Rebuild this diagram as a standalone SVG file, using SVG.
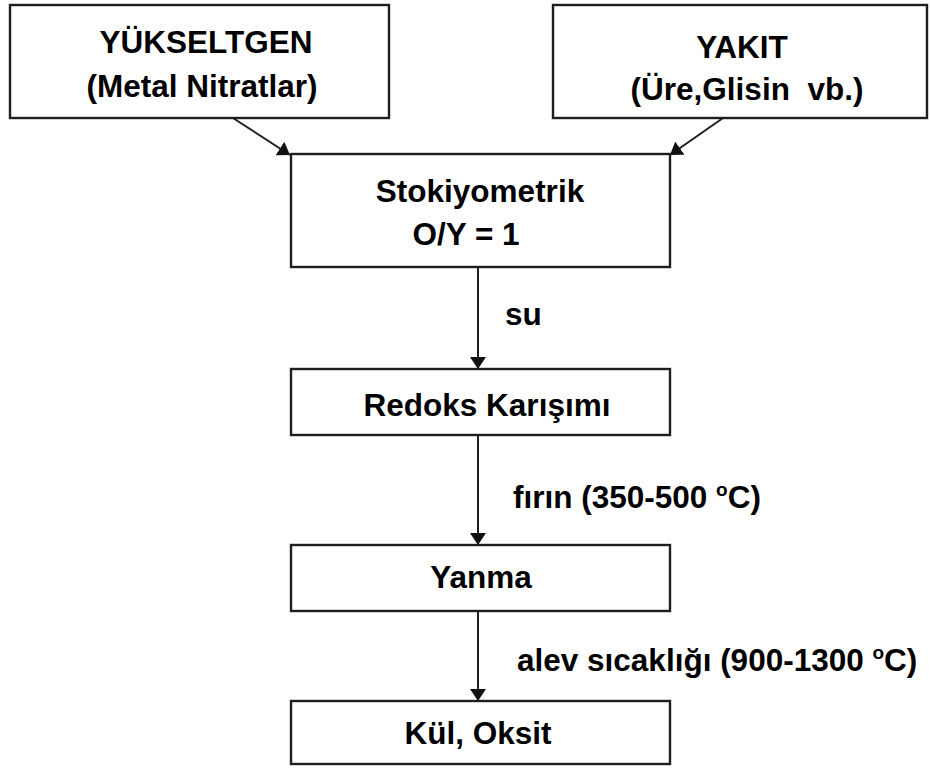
<svg xmlns="http://www.w3.org/2000/svg" width="930" height="770" viewBox="0 0 930 770">
<defs>
<style>
.box{fill:#fff;stroke:#1e1e1e;stroke-width:2.4}
.t{font-family:"Liberation Sans",Arial,sans-serif;font-weight:bold;font-size:31.5px;fill:#000}
.c{text-anchor:middle}
.ln{stroke:#1e1e1e;stroke-width:2;fill:none}
</style>
<marker id="ah" viewBox="0 0 12 16" refX="12" refY="8" markerWidth="12" markerHeight="16" markerUnits="userSpaceOnUse" orient="auto">
<path d="M0,0 L12,8 L0,16 z" fill="#111"/>
</marker>
</defs>
<rect width="930" height="770" fill="#fff"/>
<g id="connectors">
<line class="ln" x1="233" y1="118" x2="290" y2="155" marker-end="url(#ah)"/>
<line class="ln" x1="723" y1="118" x2="670" y2="155" marker-end="url(#ah)"/>
<line class="ln" x1="478" y1="267" x2="478" y2="369" marker-end="url(#ah)"/>
<line class="ln" x1="478" y1="435" x2="478" y2="545" marker-end="url(#ah)"/>
<line class="ln" x1="478" y1="611" x2="478" y2="701" marker-end="url(#ah)"/>
<text class="t" x="505" y="325">su</text>
<text class="t" x="513" y="508">fırın (350-500 <tspan font-size="19" dy="-12">o</tspan><tspan dy="12">C)</tspan></text>
<text class="t" x="517" y="671">alev sıcaklığı (900-1300 <tspan font-size="19" dy="-12">o</tspan><tspan dy="12">C)</tspan></text>
</g>
<g id="yukseltgen">
<rect class="box" x="10" y="5" width="379" height="113"/>
<text class="t c" x="206" y="53">YÜKSELTGEN</text>
<text class="t c" x="202" y="97">(Metal Nitratlar)</text>
</g>
<g id="yakit">
<rect class="box" x="553" y="5" width="374" height="113"/>
<text class="t c" x="742" y="58">YAKIT</text>
<text class="t c" x="747" y="100" xml:space="preserve">(Üre,Glisin  vb.)</text>
</g>
<g id="stokiyometrik">
<rect class="box" x="291" y="154" width="379" height="113"/>
<text class="t c" x="480" y="202">Stokiyometrik</text>
<text class="t c" x="466" y="245">O/Y = 1</text>
</g>
<g id="redoks">
<rect class="box" x="291" y="369" width="379" height="66"/>
<text class="t c" x="487" y="416">Redoks Karışımı</text>
</g>
<g id="yanma">
<rect class="box" x="291" y="545" width="379" height="66"/>
<text class="t c" x="481" y="588">Yanma</text>
</g>
<g id="kul">
<rect class="box" x="291" y="701" width="379" height="63"/>
<text class="t c" x="478" y="744">Kül, Oksit</text>
</g>
</svg>
